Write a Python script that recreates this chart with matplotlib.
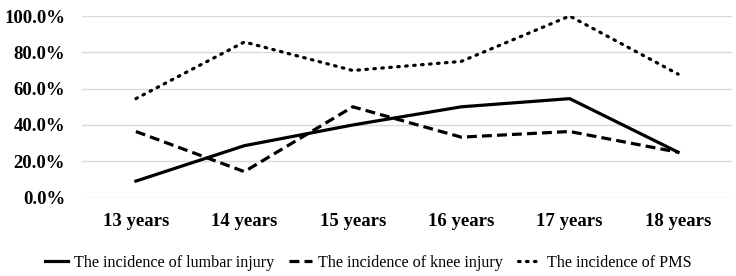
import matplotlib as mpl
import matplotlib.pyplot as plt
import numpy as np

mpl.rcParams['font.family'] = ['Liberation Serif', 'DejaVu Serif']

years = ['13 years', '14 years', '15 years', '16 years', '17 years', '18 years']
lumbar = [9.1, 28.6, 40.0, 50.0, 54.5, 25.0]
knee = [36.4, 14.3, 50.0, 33.3, 36.4, 25.0]
pms = [54.5, 85.7, 70.0, 75.0, 100.0, 68.0]

x = np.arange(len(years))

fig = plt.figure(figsize=(7.36, 2.76), dpi=100)
ax = fig.add_axes([0.111, 0.284, 0.884, 0.658])

lw = 2.3
ax.plot(x, lumbar, color='black', lw=lw, ls='-', label='The incidence of lumbar injury')
ax.plot(x, knee, color='black', lw=lw, ls=(0, (3.1, 1.6)), label='The incidence of knee injury')
ax.plot(x, pms, color='black', lw=lw, ls=(0, (0.5, 2.0)), dash_capstyle='round',
        label='The incidence of PMS')

ax.set_xlim(-0.5, 5.5)
ax.set_ylim(0, 100)
ax.set_yticks(np.arange(0, 101, 20))
ax.set_yticklabels([f'{v:.1f}%' for v in np.arange(0, 101, 20)])
ax.set_xticks(x, years)
ax.grid(axis='y', color='#d9d9d9', lw=1)
ax.set_axisbelow(True)
for s in ax.spines.values():
    s.set_visible(False)
ax.tick_params(axis='both', length=0, labelsize=13.5)
ax.tick_params(axis='y', pad=12)
ax.tick_params(axis='x', pad=11)
for lab in ax.get_xticklabels() + ax.get_yticklabels():
    lab.set_fontweight('bold')

fig.legend(loc='center', bbox_to_anchor=(0.5, 0.047), ncol=3, frameon=False,
           fontsize=11.6, handlelength=1.43, handletextpad=0.37, columnspacing=0.93)

plt.savefig('out.png', dpi=100)
